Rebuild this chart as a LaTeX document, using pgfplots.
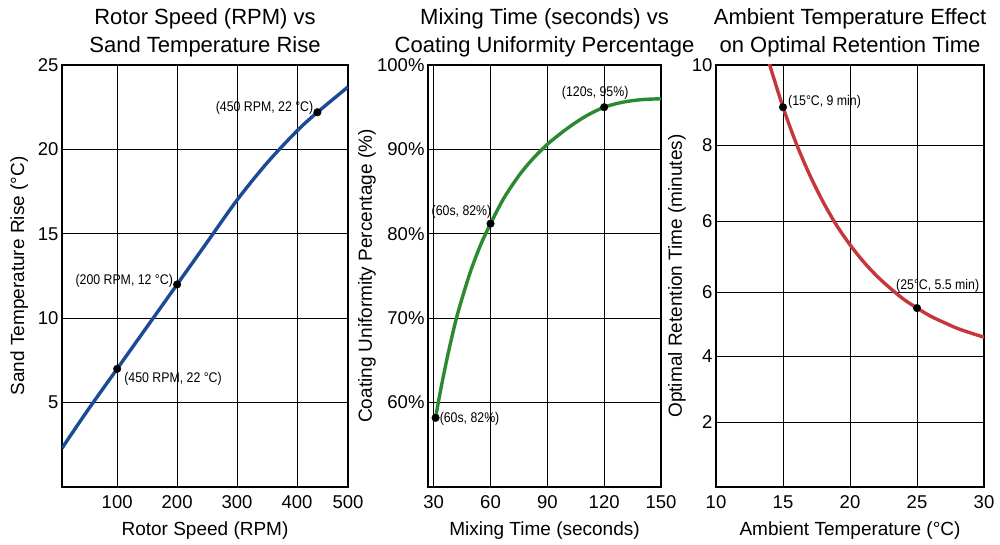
\documentclass[border=0pt]{standalone}
\usepackage{fontspec}
\setmainfont{Liberation Sans}
\newfontfamily\narrowfont[FakeStretch=0.88]{Liberation Sans}
\usepackage{pgfplots}
\pgfplotsset{compat=1.18}

\definecolor{lineblue}{HTML}{1B4A97}
\definecolor{linegreen}{HTML}{2B8A2F}
\definecolor{linered}{HTML}{C4373A}

\tikzset{ann/.style={font=\narrowfont\fontsize{14}{16}\selectfont, inner sep=0pt}}

\pgfplotsset{
  panel/.style={
    scale only axis,
    height=422pt,
    anchor=south west,
    axis line style={line width=1.6pt},
    grid=major,
    major grid style={black, line width=0.9pt},
    major tick length=0pt,
    tick label style={font=\fontsize{18.5}{20}\selectfont},
    xticklabel style={yshift=-5pt},
    /pgf/number format/assume math mode=true,
    label style={font=\fontsize{19}{22}\selectfont},
    xlabel style={at={(axis description cs:0.5,-0.104)}, anchor=center},
    title style={font=\fontsize{22}{27}\selectfont, align=center,
      at={(axis description cs:0.5,1.062)}, anchor=center},
    clip=true,
  },
  curve/.style={line width=3.4pt, smooth, no marks},
  dots/.style={only marks, mark=*, mark size=3.8pt, black},
}

\begin{document}
\begin{tikzpicture}[x=1pt,y=1pt]
\useasboundingbox (0,0) rectangle (1000,545);

% Panel 1
\begin{axis}[panel,
  at={(62pt,58pt)}, width=286pt,
  xmin=8, xmax=485, ymin=0, ymax=25,
  xtick={100,200,300,400,485}, xticklabels={100,200,300,400,500},
  ytick={5,10,15,20,25},
  ylabel style={at={(axis description cs:-0.150,0.5)}, anchor=center},
  title={Rotor Speed (RPM) vs\\[1pt]Sand Temperature Rise},
  xlabel={Rotor Speed (RPM)},
  ylabel={Sand Temperature Rise (°C)},
]
\addplot[curve, lineblue] coordinates {
(8,2.3) (50,4.5) (100,7.0) (150,9.5) (200,12.0) (250,14.5)
(300,17.0) (350,19.2) (400,21.1) (434,22.2) (485,23.7)};
\addplot[dots] coordinates {(100,7.0) (200,12.0) (434,22.2)};
\node[ann, anchor=east, xshift=-4pt, yshift=4pt] at (axis cs:434,22.2) {(450 RPM, 22 °C)};
\node[ann, anchor=east, xshift=-4pt, yshift=4pt] at (axis cs:200,12.0) {(200 RPM, 12 °C)};
\node[ann, anchor=west, xshift=7pt, yshift=-10pt] at (axis cs:100,7.0) {(450 RPM, 22 °C)};
\end{axis}

% Panel 2
\begin{axis}[panel,
  at={(428pt,58pt)}, width=233pt,
  xmin=27, xmax=150, ymin=50, ymax=100,
  xtick={30,60,90,120,150},
  ytick={60,70,80,90,100}, yticklabels={60\%,70\%,80\%,90\%,100\%},
  ylabel style={at={(axis description cs:-0.262,0.5)}, anchor=center},
  title={Mixing Time (seconds) vs\\[1pt]Coating Uniformity Percentage},
  xlabel={Mixing Time (seconds)},
  ylabel={Coating Uniformity Percentage (\%)},
]
\addplot[curve, linegreen] coordinates {
(31,58.2) (33,60.7) (35,63.0) (38,66.2) (42,70.0) (46,73.1) (50,75.9)
(55,78.8) (60,81.2) (67,84.2) (75,86.9) (82,88.8) (90,90.6) (100,92.4)
(110,93.9) (120,95.0) (130,95.6) (140,95.9) (150,96.0)};
\addplot[dots] coordinates {(31,58.2) (60,81.2) (120,95.0)};
\node[ann, anchor=center, xshift=-9pt, yshift=14pt] at (axis cs:120,95.0) {(120s, 95\%)};
\node[ann, anchor=east, xshift=1pt, yshift=12pt] at (axis cs:60,81.2) {(60s, 82\%)};
\node[ann, anchor=west, xshift=4pt, yshift=-1pt] at (axis cs:31,58.2) {(60s, 82\%)};
\end{axis}

% Panel 3
\begin{axis}[panel,
  at={(716pt,58pt)}, width=268pt,
  xmin=10, xmax=30, ymin=0, ymax=10,
  xtick={10,15,20,25,30},
  ytick={1.54,3.10,4.62,6.30,8.10,10}, yticklabels={2,4,6,6,8,10},
  ylabel style={at={(axis description cs:-0.146,0.5)}, anchor=center},
  title={Ambient Temperature Effect\\[1pt]on Optimal Retention Time},
  xlabel={Ambient Temperature (°C)},
  ylabel={Optimal Retention Time (minutes)},
]
\addplot[curve, linered] coordinates {
(13.7,10.35) (14,10.01) (15,9.0) (16,8.13) (17,7.39) (18,6.75) (19,6.20)
(20,5.74) (21,5.34) (22,5.00) (23,4.71) (24,4.45) (25,4.24) (26,4.05)
(27,3.90) (28,3.76) (29,3.65) (30,3.55)};
\addplot[dots] coordinates {(15,9.0) (25,4.24)};
\node[ann, anchor=west, xshift=5pt, yshift=5pt] at (axis cs:15,9.0) {(15°C, 9 min)};
\node[ann, anchor=west, xshift=-21pt, yshift=22pt] at (axis cs:25,4.24) {(25°C, 5.5 min)};
\end{axis}
\end{tikzpicture}
\end{document}
